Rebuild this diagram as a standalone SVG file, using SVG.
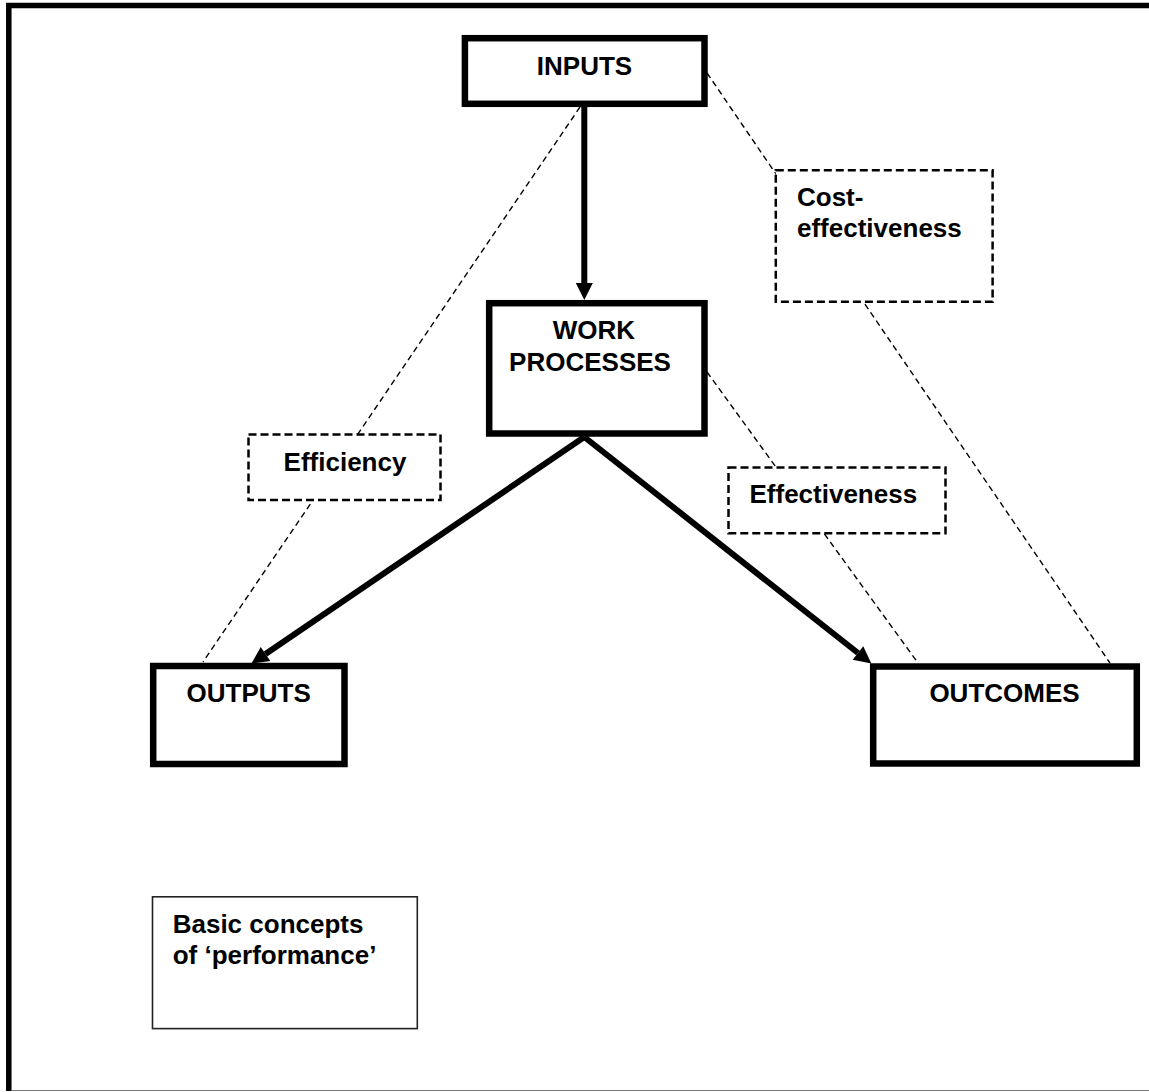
<svg xmlns="http://www.w3.org/2000/svg" width="1149" height="1092" viewBox="0 0 1149 1092">
<style>
.lbl{font-family:"Liberation Sans",Arial,sans-serif;font-weight:bold;font-size:26px;fill:#000}
.mid{text-anchor:middle}
.main{fill:#fff;stroke:#000;stroke-width:6.5}
.dbox{fill:#fff;stroke:#000;stroke-width:2.5;stroke-dasharray:8 4}
.dline{fill:none;stroke:#000;stroke-width:1.4;stroke-dasharray:6 4}
.arr{fill:none;stroke:#000;stroke-width:6}
</style>
<defs>
<marker id="ah" markerUnits="userSpaceOnUse" viewBox="0 -9 17 18" markerWidth="17" markerHeight="18" refX="0" refY="0" orient="auto" overflow="visible">
<path d="M0,-8.5 L17,0 L0,8.5 z" fill="#000"/>
</marker>
</defs>
<rect x="0" y="0" width="1149" height="1092" fill="#fff"/>
<g id="frame">
<path d="M8.8,1091 L8.8,5.5 L1149,5.5" fill="none" stroke="#000" stroke-width="5.5"/>
<line x1="11" y1="1090.5" x2="1149" y2="1090.5" stroke="#777" stroke-width="1.2"/>
</g>
<g id="connectors">
<line class="dline" x1="580" y1="107" x2="203" y2="662"/>
<line class="dline" x1="707" y1="73" x2="1110" y2="663"/>
<line class="dline" x1="707" y1="372" x2="918" y2="663"/>
<line class="arr" x1="584.3" y1="107" x2="584.3" y2="283" marker-end="url(#ah)"/>
<line class="arr" x1="584.3" y1="437" x2="265.5" y2="654" marker-end="url(#ah)"/>
<line class="arr" x1="584.3" y1="437" x2="858" y2="653" marker-end="url(#ah)"/>
</g>
<g id="inputs">
<rect class="main" x="464.9" y="38.2" width="239.6" height="65.6"/>
<text class="lbl mid" x="584.5" y="75">INPUTS</text>
</g>
<g id="work-processes">
<rect class="main" x="489.2" y="303.2" width="215.3" height="130.3"/>
<text class="lbl mid" x="594" y="339">WORK</text>
<text class="lbl mid" x="590" y="370.5">PROCESSES</text>
</g>
<g id="outputs">
<rect class="main" x="153.2" y="666" width="191.3" height="98"/>
<text class="lbl mid" x="248.7" y="701.5">OUTPUTS</text>
</g>
<g id="outcomes">
<rect class="main" x="873.2" y="666.5" width="263.6" height="97"/>
<text class="lbl mid" x="1004.5" y="701.5">OUTCOMES</text>
</g>
<g id="efficiency">
<rect class="dbox" x="248.5" y="434.5" width="192" height="65.5"/>
<text class="lbl mid" x="345" y="470.5">Efficiency</text>
</g>
<g id="effectiveness">
<rect class="dbox" x="728.5" y="467.5" width="217" height="65.8"/>
<text class="lbl mid" x="833.3" y="502.5">Effectiveness</text>
</g>
<g id="cost-effectiveness">
<rect class="dbox" x="775.8" y="170.2" width="216.8" height="131.5"/>
<text class="lbl" x="797" y="206">Cost-</text>
<text class="lbl" x="797" y="237.3">effectiveness</text>
</g>
<g id="basic-concepts">
<rect x="152.5" y="896.8" width="264.8" height="131.8" fill="#fff" stroke="#222" stroke-width="1.6"/>
<text class="lbl" x="172.7" y="932.7">Basic concepts</text>
<text class="lbl" x="172.7" y="964">of ‘performance’</text>
</g>
</svg>
